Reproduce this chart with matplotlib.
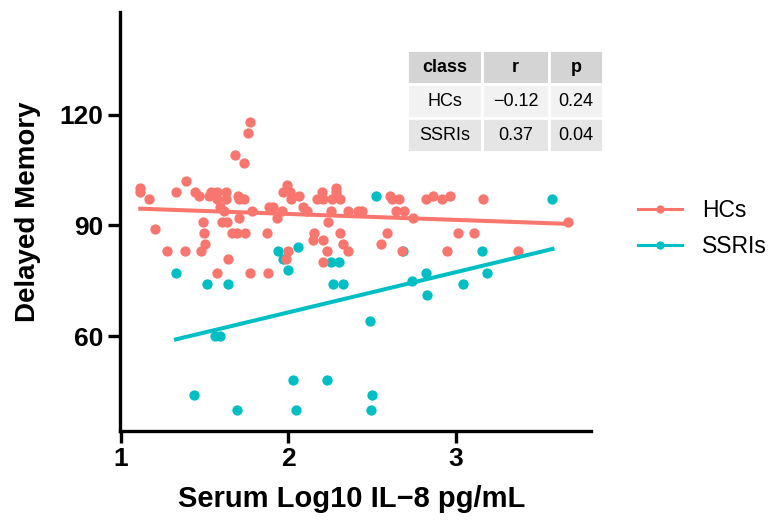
import matplotlib
matplotlib.use("Agg")
import matplotlib.pyplot as plt
from matplotlib.lines import Line2D
import numpy as np

plt.rcParams['font.family'] = ['Liberation Sans', 'DejaVu Sans']

# healthy controls
hc_x = [1.115, 1.115, 1.17, 1.203, 1.273, 1.327, 1.388, 1.382, 1.442, 1.467,
        1.476, 1.488, 1.497, 1.501, 1.527, 1.537, 1.571, 1.571, 1.571, 1.591,
        1.601, 1.617, 1.627, 1.627, 1.631, 1.641, 1.661, 1.681, 1.691, 1.70,
        1.706, 1.706, 1.736, 1.736, 1.740, 1.756, 1.770, 1.772, 1.784, 1.873,
        1.876, 1.885, 1.906, 1.933, 1.959, 1.969, 1.993, 2.009, 2.013, 1.983,
        1.999, 2.063, 2.088, 2.112, 2.154, 2.148, 2.168, 2.198, 2.208, 2.208,
        2.204, 2.232, 2.238, 2.252, 2.258, 2.284, 2.284, 2.307, 2.307, 2.324,
        2.353, 2.357, 2.415, 2.439, 2.606, 2.616, 2.661, 2.821, 2.861, 2.918,
        2.964, 3.16, 2.642, 2.691, 2.745, 3.670, 2.586, 2.55, 2.676, 2.948,
        3.01, 3.109, 3.368]
hc_y = [99, 100, 97, 89, 83, 99, 102, 83, 99, 98,
        83, 91, 88, 85, 98, 99, 99, 97, 77, 95,
        91, 94, 99, 97, 91, 81, 88, 109, 88, 98,
        97, 92, 107, 97, 88, 115, 118, 77, 94, 88,
        77, 95, 95, 92, 94, 99, 101, 99, 97, 81,
        83, 98, 95, 94, 88, 86, 97, 99, 97, 86,
        80, 83, 91, 94, 97, 100, 99, 97, 88, 85,
        83, 94, 94, 94, 98, 97, 97, 97, 98, 97,
        98, 97, 94, 94, 92, 91, 88, 85, 83, 83,
        88, 88, 83]

# SSRI group
ssri_x = [1.328, 1.939, 1.969, 1.995, 2.059, 2.252, 2.303, 1.512, 1.641, 2.267,
          2.327, 1.561, 1.591, 1.437, 1.694, 2.029, 2.045, 2.233, 2.740, 2.824,
          2.830, 3.043, 3.185, 2.485, 2.499, 2.494, 2.522, 3.576, 2.685, 3.153]
ssri_y = [77, 83, 81, 78, 84, 80, 80, 74, 74, 74,
          74, 60, 60, 44, 40, 48, 40, 48, 75, 77,
          71, 74, 77, 64, 44, 40, 98, 97, 83, 83]

tab_cols = ["class", "r", "p"]
tab_rows = [["HCs", "\u22120.12", "0.24"],
            ["SSRIs", "0.37", "0.04"]]

red = "#F8766D"
teal = "#00BFC4"

fig = plt.figure(figsize=(7.71, 5.2), dpi=100)
ax = fig.add_axes([0.1556, 0.1721, 0.6109, 0.8048])

ax.scatter(ssri_x, ssri_y, s=55, color=teal, linewidths=0, zorder=2)
ax.scatter(hc_x, hc_y, s=55, color=red, linewidths=0, zorder=2)

# linear fits
for xs, ys, c in [(hc_x, hc_y, red), (ssri_x, ssri_y, teal)]:
    xs = np.array(xs)
    k, b = np.polyfit(xs, ys, 1)
    xx = np.array([xs.min(), xs.max()])
    ax.plot(xx, k * xx + b, color=c, lw=2.9, zorder=3)

ax.set_xlim(0.994, 3.806)
ax.set_ylim(34.4, 147.8)
ax.set_xticks([1, 2, 3])
ax.set_yticks([60, 90, 120])

for s in ['top', 'right']:
    ax.spines[s].set_visible(False)
for s in ['left', 'bottom']:
    ax.spines[s].set_linewidth(2.4)
ax.tick_params(width=2.4, length=8.5, pad=3.5, labelsize=19)
for lab in ax.get_xticklabels() + ax.get_yticklabels():
    lab.set_fontweight('bold')

fig.text(352 / 771, 13 / 520, "Serum Log10 IL\u22128 pg/mL", fontsize=21,
         fontweight='bold', ha='center', va='baseline')
fig.text(35 / 771, (520 - 211.5) / 520, "Delayed Memory", fontsize=20,
         fontweight='bold', rotation=90, rotation_mode='anchor',
         ha='center', va='baseline')

# stats table
tbl = ax.table(cellText=tab_rows, colLabels=tab_cols, cellLoc='center',
               colWidths=[75, 67, 54],
               bbox=[0.6093, 0.6655, 0.4161, 0.2437], zorder=5)
tbl.auto_set_font_size(False)
tbl.set_fontsize(13)
fills = ["#D4D4D4", "#F2F2F2", "#E5E5E5"]
for (r, c), cell in tbl.get_celld().items():
    cell.set_facecolor(fills[r])
    cell.set_edgecolor("white")
    cell.set_linewidth(2)
    if r == 0:
        cell.set_text_props(fontweight='bold')

handles = [Line2D([], [], color=red, lw=2.2, marker='o', markersize=5),
           Line2D([], [], color=teal, lw=2.2, marker='o', markersize=5)]
fig.legend(handles, ["HCs", "SSRIs"], loc='center left',
           bbox_to_anchor=(638 / 771, (520 - 228.5) / 520), frameon=False,
           fontsize=16.5, handlelength=1.9, handletextpad=0.9,
           borderpad=0, borderaxespad=0, labelspacing=0.55)

fig.savefig("out.png", dpi=100)
